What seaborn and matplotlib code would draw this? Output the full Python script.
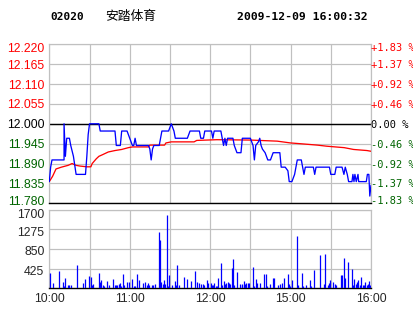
import matplotlib
matplotlib.use("Agg")
import matplotlib.pyplot as plt
import matplotlib.transforms as mtransforms
import seaborn as sns
import pandas as pd

# ---------------- data ----------------
code = "02020"
name = "安踏体育"
stamp = "2009-12-09 16:00:32"
prev_close = 12.00

# minutes since 10:00 on the trading clock (10:00-12:30, 14:30-16:00 -> 0..240)
price_min = [0, 1, 2, 11, 11, 12, 13, 15, 16, 18, 20, 27, 28, 29, 30, 37, 38, 49, 50, 53, 54,
             58, 60, 62, 63, 64, 65, 74, 75, 76, 77, 78, 82, 84, 89, 91, 93, 94, 103, 105,
             112, 113, 115, 116, 121, 122, 123, 128, 129, 130, 131, 132, 133, 137, 138, 139,
             140, 143, 144, 150, 151, 152, 153, 154, 156, 157, 158, 159, 161, 162, 163, 165,
             167, 172, 173, 176, 178, 179, 181, 183, 185, 188, 189, 190, 191, 197, 198, 199,
             209, 210, 213, 214, 218.4, 219.8, 220.8, 222.3, 223.3, 225.8, 226.5, 227.3, 228,
             229, 230.3, 230.8, 236.5, 237.3, 238.4, 239.1, 240]
price_val = [11.84, 11.88, 11.90, 11.90, 12.00, 11.91, 11.96, 11.96, 11.94, 11.91, 11.86, 11.86,
             11.91, 11.97, 12.00, 12.00, 11.98, 11.98, 11.94, 11.94, 11.98,
             11.98, 11.96, 11.94, 11.94, 11.96, 11.94, 11.94, 11.93, 11.90, 11.93, 11.94, 11.94,
             11.98, 11.98, 12.00, 11.98, 11.96, 11.96, 11.98,
             11.98, 11.96, 11.96, 11.98, 11.98, 11.96, 11.98, 11.98, 11.96, 11.94, 11.96, 11.94,
             11.96, 11.96, 11.94, 11.93,
             11.92, 11.92, 11.96, 11.96, 11.95, 11.94, 11.90, 11.94, 11.95, 11.96, 11.94, 11.93,
             11.92, 11.91, 11.90, 11.90,
             11.92, 11.92, 11.88, 11.88, 11.87, 11.84, 11.84, 11.86, 11.90, 11.90, 11.88, 11.86,
             11.88, 11.88, 11.86, 11.88,
             11.88, 11.86, 11.86, 11.88, 11.88, 11.86, 11.88, 11.86, 11.84, 11.84, 11.86, 11.84,
             11.86,
             11.84, 11.86, 11.84, 11.84, 11.86, 11.86, 11.80, 11.83]

avg_min = [0, 2.5, 5, 9, 14, 17, 20, 23, 28, 31, 32, 35, 37, 40, 44, 49, 54, 59, 62, 74, 75,
           86, 87, 91, 108, 110, 125, 150, 170, 180, 187, 200, 207, 220, 227, 237, 240]
avg_val = [11.84, 11.855, 11.875, 11.88, 11.885, 11.89, 11.885, 11.883, 11.881, 11.881, 11.89,
           11.903, 11.91, 11.915, 11.922, 11.926, 11.929, 11.934, 11.936, 11.936, 11.941,
           11.941, 11.947, 11.95, 11.95, 11.954, 11.956, 11.955, 11.952, 11.947, 11.945,
           11.941, 11.938, 11.934, 11.929, 11.926, 11.924]

vol_min = [0.7, 3, 7.5, 10.4, 11, 12, 14.2, 15, 16.4, 20.9, 25.4, 26.9, 29.8, 31.3, 32, 32.8,
           37.3, 38, 38.8, 40.3, 41, 43.3, 44.8, 47.7, 49, 49.5, 50.7, 52, 53, 53.7, 55.2, 56,
           58.2, 59.7, 61.9, 63.5, 64, 65.6, 67.1, 70.1, 71.6, 73, 73.9, 74.6, 76.8, 77.5, 79.1,
           82.1, 82.8, 83.6, 85, 85.8, 86.5, 88, 88.8, 89.5, 91.8, 94, 94.8, 95.5, 97, 100.7,
           103, 105.9, 108.9, 110.4, 111.9, 113.4, 114.9, 115.6, 117.9, 118.6, 120.9, 121.6,
           122.4, 123.1, 124.6, 125.3, 126.1, 128.3, 129, 130.5, 131.3, 132, 133.5, 134.3, 135,
           136.5, 137.3, 138, 140.4, 142.6, 143.4, 144.1, 145.6, 146.3, 147.1, 148.6, 149.3,
           152.2, 153, 154.4, 155.2, 157.4, 160.4, 161.9, 162.7,
           164.9, 167.1, 167.9, 170.8, 172.3, 173.8, 175.3, 178.3, 179.1, 179.8, 181.3, 185,
           185.8, 188.7, 189.5, 191.7, 194.7, 195.5, 197.7, 202.2, 205.2, 205.9, 208.1, 208.8,
           209.6, 211.9, 213.4, 214.1, 217.8, 218.6, 220.1, 220.8, 223.1, 226.1, 226.8, 227.6,
           229, 229.8, 230.6, 231.9, 232.6, 234.1, 234.8, 235.6, 237.1, 237.8, 238.6, 239.3]
vol_val = [324, 108, 374, 130, 50, 216, 72, 72, 72, 504, 108, 202, 266, 245, 72, 94,
           331, 130, 180, 72, 50, 158, 72, 202, 72, 72, 72, 94, 115, 50, 310, 72,
           137, 137, 202, 50, 50, 310, 180, 115, 137, 72, 115, 72, 72, 72, 94,
           1210, 1044, 130, 94, 173, 94, 1584, 50, 288, 72, 158, 72, 504, 72, 245,
           202, 158, 374, 137, 115, 94, 94, 72, 180, 115, 115, 72,
           72, 115, 50, 50, 223, 547, 72, 158, 94, 115, 137, 115, 94,
           439, 634, 72, 353, 94, 72, 94, 158, 94, 115, 115, 115,
           461, 50, 202, 115, 115, 310, 310, 50,
           94, 223, 223, 72, 94, 115, 223, 310, 94, 50, 180, 1130,
           72, 331, 50, 72, 180, 50, 396, 720, 94, 742, 72, 115,
           180, 137, 94, 72, 288, 288, 655, 223, 569, 418, 72, 202,
           94, 137, 180, 72, 245, 72, 72, 137, 72, 94, 158, 72]

price_ticks = [11.780, 11.835, 11.890, 11.945, 12.000, 12.055, 12.110, 12.165, 12.220]
pct_labels = ["-1.83 %", "-1.37 %", "-0.92 %", "-0.46 %", "0.00 %",
              "+0.46 %", "+0.92 %", "+1.37 %", "+1.83 %"]
vol_ticks = [425, 850, 1275, 1700]
time_ticks = [0, 30, 60, 90, 120, 150, 180, 210, 240]
time_labels = ["10:00", "", "11:00", "", "12:00", "", "15:00", "", "16:00"]

# ---------------- style ----------------
sns.set_theme(style="white")
plt.rcParams['font.family'] = ['Liberation Sans', 'DejaVu Sans']

RED = "#FF0000"
GREEN = "#006400"
GRID = "#C0C0C0"
W, H = 414, 314

def color_for(v):
    if abs(v - prev_close) < 1e-9:
        return "black"
    return RED if v > prev_close else GREEN

fig = plt.figure(figsize=(W / 100, H / 100), dpi=100)
fig.patch.set_facecolor("white")

L, R = 49.3, 371.0
ax = fig.add_axes([L / W, (H - 203.3) / H, (R - L) / W, (203.3 - 44.3) / H])
axv = fig.add_axes([L / W, (H - 288.3) / H, (R - L) / W, (288.3 - 209.5) / H])

px = 0.72  # one pixel in points

for a in (ax, axv):
    a.set_facecolor("white")
    a.set_xlim(0, 240)
    a.set_xticks(time_ticks)
    a.grid(True, color=GRID, lw=px * 1.2)
    a.set_axisbelow(True)
    for s in ("left", "right", "top"):
        a.spines[s].set_color(GRID)
        a.spines[s].set_linewidth(px * 1.2)
    a.spines["bottom"].set_color("black")
    a.spines["bottom"].set_linewidth(px * 1.4)
    a.tick_params(length=0)

# price panel
ax.set_ylim(price_ticks[0], price_ticks[-1])
ax.set_yticks(price_ticks)
ax.set_yticklabels([f"{v:.3f}" for v in price_ticks], fontsize=8.8)
ax.tick_params(axis="y", pad=3.5)
ax.set_xticklabels([])
ax.axhline(prev_close, color="black", lw=px * 1.4, zorder=2)

df_p = pd.DataFrame({"m": price_min, "p": price_val})
df_a = pd.DataFrame({"m": avg_min, "p": avg_val})
sns.lineplot(data=df_a, x="m", y="p", ax=ax, color=RED, lw=px * 1.3,
             estimator=None, sort=False, zorder=3)
sns.lineplot(data=df_p, x="m", y="p", ax=ax, color="#0000FF", lw=px * 1.3,
             estimator=None, sort=False, zorder=4)
ax.set_xlabel("")
ax.set_ylabel("")
ax.set_xlim(0, 240)
ax.set_ylim(price_ticks[0], price_ticks[-1])

axr = ax.twinx()
axr.set_ylim(price_ticks[0], price_ticks[-1])
axr.set_yticks(price_ticks)
axr.set_yticklabels(pct_labels, family="DejaVu Sans Mono", fontsize=7.5)
axr.tick_params(axis="y", length=0, pad=0.3)
for s in axr.spines.values():
    s.set_visible(False)
axr.grid(False)

# volume panel
axv.vlines(vol_min, 0, vol_val, color="#0000FF", lw=px * 1.25, zorder=3)
axv.set_ylim(0, 1700)
axv.set_yticks(vol_ticks)
axv.set_yticklabels([str(v) for v in vol_ticks], fontsize=8.8)
axv.set_xticklabels(time_labels, fontsize=8.8)
axv.tick_params(axis="y", pad=3.5)
axv.tick_params(axis="x", pad=3.5)


def shift(lbl, dy_px):
    off = mtransforms.ScaledTranslation(0, -dy_px / 100, fig.dpi_scale_trans)
    lbl.set_transform(lbl.get_transform() + off)


# colours and edge clamping of price labels
for a in (ax, axr):
    labels = a.get_yticklabels()
    for lbl, v in zip(labels, price_ticks):
        lbl.set_color(color_for(v))
    shift(labels[0], -3)
    shift(labels[-1], 3)

vlabels = axv.get_yticklabels()
for lbl in vlabels[:-1]:
    shift(lbl, 2)
shift(vlabels[-1], 3.5)

# header
ty = 1 - 16.7 / H
fig.text(50 / W, ty, code, family="DejaVu Sans Mono", weight="bold", fontsize=8,
         va="center", ha="left", color="black")
fig.text(105 / W, ty, name, family=["Noto Sans CJK SC", "DejaVu Sans"], fontsize=9.2,
         va="center", ha="left", color="black")
fig.text(237.5 / W, ty, stamp, family="DejaVu Sans Mono", weight="bold", fontsize=8.25,
         va="center", ha="left", color="black")

fig.savefig("out.png", dpi=100, facecolor="white")
